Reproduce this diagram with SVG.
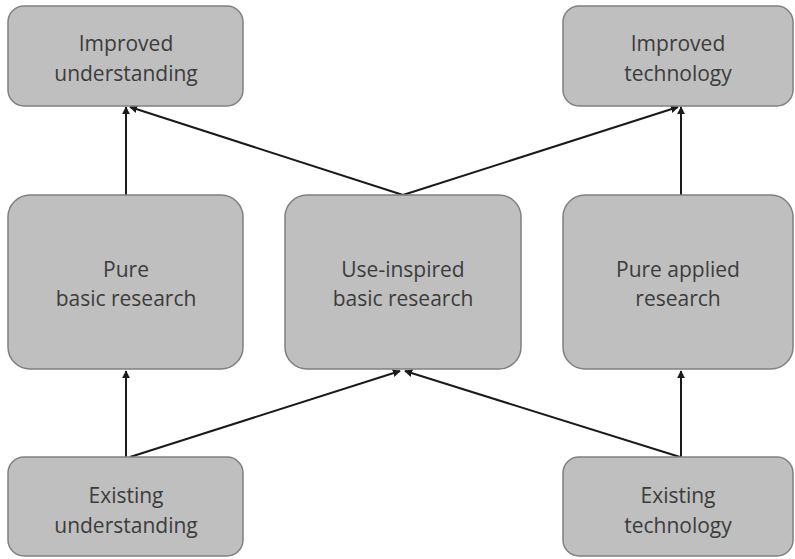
<svg xmlns="http://www.w3.org/2000/svg" width="795" height="559" viewBox="0 0 795 559">
<style>
.box{fill:#bfbfbf;stroke:#808080;stroke-width:1.5}
.t{font-family:"Open Sans","Liberation Sans",sans-serif;font-size:21px;fill:#3c3c3c;text-anchor:middle}
.c{stroke:#1a1a1a;stroke-width:2;fill:none;marker-end:url(#ah)}
</style>
<defs>
<marker id="ah" viewBox="0 0 10 10" refX="9" refY="5" markerWidth="4" markerHeight="4" orient="auto" markerUnits="strokeWidth">
<path d="M0,0 L10,5 L0,10 z" fill="#1a1a1a"/>
</marker>
</defs>
<rect width="795" height="559" fill="#ffffff"/>
<g id="connectors">
<line class="c" x1="126" y1="457" x2="126" y2="371"/>
<line class="c" x1="130" y1="457" x2="400" y2="371"/>
<line class="c" x1="680" y1="457" x2="405" y2="371"/>
<line class="c" x1="681" y1="457" x2="681" y2="371"/>
<line class="c" x1="126" y1="195" x2="126" y2="107"/>
<line class="c" x1="403" y1="195" x2="130" y2="107"/>
<line class="c" x1="403" y1="195" x2="678" y2="107"/>
<line class="c" x1="681" y1="195" x2="681" y2="107"/>
</g>
<g id="improved-understanding">
<rect class="box" x="8" y="6" width="235" height="100" rx="16"/>
<text class="t" x="126" y="51">Improved</text>
<text class="t" x="126" y="81">understanding</text>
</g>
<g id="improved-technology">
<rect class="box" x="563" y="6" width="230" height="100" rx="16"/>
<text class="t" x="678" y="51">Improved</text>
<text class="t" x="678" y="81">technology</text>
</g>
<g id="pure-basic">
<rect class="box" x="8" y="195" width="235" height="174" rx="22"/>
<text class="t" x="126" y="277">Pure</text>
<text class="t" x="126" y="306">basic research</text>
</g>
<g id="use-inspired">
<rect class="box" x="285" y="195" width="236" height="174" rx="22"/>
<text class="t" x="403" y="277">Use-inspired</text>
<text class="t" x="403" y="306">basic research</text>
</g>
<g id="pure-applied">
<rect class="box" x="563" y="195" width="230" height="174" rx="22"/>
<text class="t" x="678" y="277">Pure applied</text>
<text class="t" x="678" y="306">research</text>
</g>
<g id="existing-understanding">
<rect class="box" x="8" y="457" width="235" height="99" rx="16"/>
<text class="t" x="126" y="503">Existing</text>
<text class="t" x="126" y="533">understanding</text>
</g>
<g id="existing-technology">
<rect class="box" x="563" y="457" width="230" height="99" rx="16"/>
<text class="t" x="678" y="503">Existing</text>
<text class="t" x="678" y="533">technology</text>
</g>
</svg>
